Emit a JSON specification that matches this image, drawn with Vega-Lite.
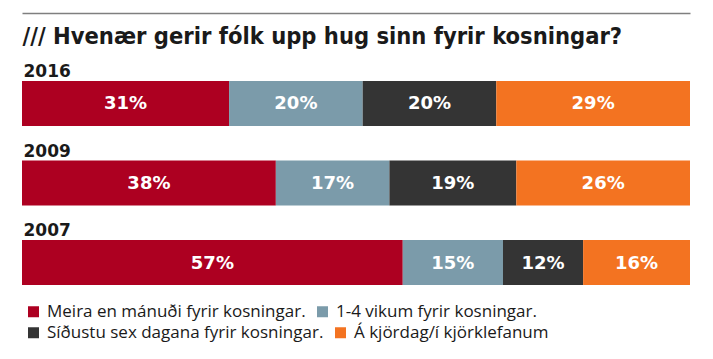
{
  "$schema": "https://vega.github.io/schema/vega-lite/v6.json",
  "width": 668,
  "height": 204,
  "autosize": "none",
  "padding": {"left": 22, "top": 81, "right": 23, "bottom": 74},
  "background": "white",
  "config": {
    "view": {"stroke": null},
    "legend": {
      "orient": "none",
      "direction": "horizontal",
      "title": null,
      "symbolType": "square",
      "symbolSize": 121,
      "symbolStrokeWidth": 0,
      "symbolOpacity": 1,
      "labelFont": "Open Sans",
      "labelFontSize": 17,
      "labelColor": "#1a1a1a",
      "labelOffset": 5,
      "labelLimit": 400,
      "columnPadding": 8,
      "padding": 0,
      "offset": 0
    }
  },
  "data": {
    "values": [
      {"year": "2016", "cat": "Meira en mánuði fyrir kosningar.", "o": 1, "value": 31},
      {"year": "2016", "cat": "1-4 vikum fyrir kosningar.", "o": 2, "value": 20},
      {"year": "2016", "cat": "Síðustu sex dagana fyrir kosningar.", "o": 3, "value": 20},
      {"year": "2016", "cat": "Á kjördag/í kjörklefanum", "o": 4, "value": 29},
      {"year": "2009", "cat": "Meira en mánuði fyrir kosningar.", "o": 1, "value": 38},
      {"year": "2009", "cat": "1-4 vikum fyrir kosningar.", "o": 2, "value": 17},
      {"year": "2009", "cat": "Síðustu sex dagana fyrir kosningar.", "o": 3, "value": 19},
      {"year": "2009", "cat": "Á kjördag/í kjörklefanum", "o": 4, "value": 26},
      {"year": "2007", "cat": "Meira en mánuði fyrir kosningar.", "o": 1, "value": 57},
      {"year": "2007", "cat": "1-4 vikum fyrir kosningar.", "o": 2, "value": 15},
      {"year": "2007", "cat": "Síðustu sex dagana fyrir kosningar.", "o": 3, "value": 12},
      {"year": "2007", "cat": "Á kjördag/í kjörklefanum", "o": 4, "value": 16}
    ]
  },
  "transform": [
    {"stack": "value", "groupby": ["year"], "sort": [{"field": "o", "order": "ascending"}], "as": ["v0", "v1"]},
    {"calculate": "(datum.v0 + datum.v1) / 2", "as": "mid"},
    {"calculate": "datum.value + '%'", "as": "label"}
  ],
  "encoding": {
    "y": {
      "field": "year",
      "type": "ordinal",
      "sort": ["2016", "2009", "2007"],
      "scale": {"paddingInner": 0.434, "paddingOuter": 0},
      "axis": {
        "orient": "left",
        "domain": false,
        "ticks": false,
        "tickSize": 0,
        "grid": false,
        "title": null,
        "labelPadding": -1,
        "labelAlign": "left",
        "labelBaseline": "alphabetic",
        "labelOffset": -26.5,
        "labelFont": "DejaVu Sans",
        "labelFontWeight": "bold",
        "labelFontSize": 17,
        "labelColor": "#1a1a1a"
      }
    },
    "x": {
      "field": "v0",
      "type": "quantitative",
      "scale": {"domain": [0, 100], "nice": false, "zero": true},
      "axis": {
        "orient": "top",
        "offset": 68,
        "labels": false,
        "ticks": false,
        "grid": false,
        "domain": true,
        "domainColor": "#7f7f7f",
        "domainWidth": 1.5,
        "title": "/// Hvenær gerir fólk upp hug sinn fyrir kosningar?",
        "titleX": 0,
        "titleY": 30,
        "titleAlign": "left",
        "titleAnchor": "start",
        "titleBaseline": "alphabetic",
        "titleFont": "DejaVu Sans Condensed",
        "titleFontSize": 23.5,
        "titleFontWeight": "bold",
        "titleColor": "#1a1a1a",
        "titlePadding": 0
      }
    }
  },
  "layer": [
    {
      "transform": [{"filter": "datum.o <= 2"}],
      "mark": {"type": "bar"},
      "encoding": {
        "x2": {"field": "v1"},
        "color": {
          "field": "cat",
          "type": "nominal",
          "scale": {
            "domain": ["Meira en mánuði fyrir kosningar.", "1-4 vikum fyrir kosningar."],
            "range": ["#ad0021", "#7b9baa"]
          },
          "legend": {"legendX": 3, "legendY": 222}
        }
      }
    },
    {
      "transform": [{"filter": "datum.o >= 3"}],
      "mark": {"type": "bar"},
      "encoding": {
        "x2": {"field": "v1"},
        "color": {
          "field": "cat",
          "type": "nominal",
          "scale": {
            "domain": ["Síðustu sex dagana fyrir kosningar.", "Á kjördag/í kjörklefanum"],
            "range": ["#343434", "#f37321"]
          },
          "legend": {"legendX": 3, "legendY": 243}
        }
      }
    },
    {
      "mark": {"type": "text", "font": "DejaVu Sans", "fontWeight": "bold", "fontSize": 18, "color": "white", "align": "center", "baseline": "middle", "dy": 1},
      "encoding": {
        "x": {"field": "mid", "type": "quantitative"},
        "text": {"field": "label"}
      }
    }
  ],
  "resolve": {"scale": {"color": "independent"}, "legend": {"color": "independent"}}
}
